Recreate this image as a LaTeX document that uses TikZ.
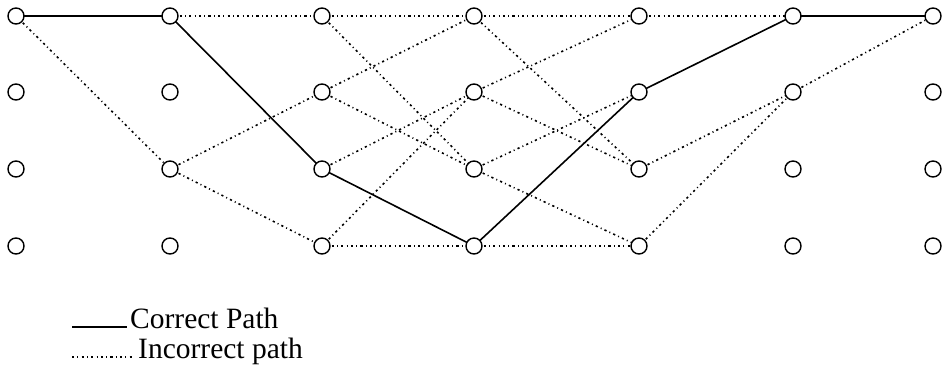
\documentclass[tikz,border=0pt]{standalone}
\usepackage{fontspec}
\setmainfont{Liberation Serif}
\usetikzlibrary{positioning}
\tikzset{
    stato/.style={circle, draw=black, line width=1.4pt, minimum size=16pt, inner sep=0pt, fill=white},
    giusto/.style={line width=1.6pt, black},
    errato/.style={line width=1.6pt, black, dash pattern=on 2.2pt off 3.2pt on 1pt off 3.2pt},
    legenda/.style={anchor=base west, inner sep=0pt, font=\fontsize{29.5}{32}\selectfont},
}

\begin{document}
\begin{tikzpicture}[x=1pt, y=-1pt]
    \useasboundingbox (0,0) rectangle (944,368);

    % Stati del traliccio (colonna/riga)
    \foreach \c/\x in {0/16,1/170,2/322,3/474,4/639,5/793,6/933}
        \foreach \r/\y in {0/16,1/92,2/169,3/246}
            \coordinate (p-\c-\r) at (\x,\y);

    % Percorsi errati (tratteggiati)
    \foreach \a/\b in {0-0/1-2, 1-0/2-0, 1-2/2-1, 1-2/2-3,
                       2-0/3-0, 2-0/3-2, 2-1/3-0, 2-1/3-2, 2-2/3-1, 2-3/3-1, 2-3/3-3,
                       3-0/4-0, 3-0/4-2, 3-1/4-0, 3-1/4-2, 3-2/4-1, 3-2/4-3, 3-3/4-3,
                       4-0/5-0, 4-2/5-1, 4-3/5-1, 5-1/6-0}
        \draw[errato] (p-\a) -- (p-\b);

    % Percorso corretto
    \draw[giusto] (p-0-0) -- (p-1-0) -- (p-2-2) -- (p-3-3) -- (p-4-1) -- (p-5-0) -- (p-6-0);

    % Nodi
    \foreach \c in {0,...,6}
        \foreach \r in {0,...,3}
            \node[stato] (n-\c-\r) at (p-\c-\r) {};

    % Legenda
    \coordinate (lg-a1) at (72,327);
    \coordinate (lg-b1) at (127,327);
    \coordinate (lg-a2) at (72,357);
    \coordinate (lg-b2) at (133,357);
    \draw[giusto, line width=1.2pt] (lg-a1) -- (lg-b1);
    \draw[errato, line width=1.2pt] (lg-a2) -- (lg-b2);
    \node[legenda] (lab-giusto) at (130,328) {Correct Path};
    \node[legenda] (lab-errato) at (138,358) {Incorrect path};
\end{tikzpicture}
\end{document}
